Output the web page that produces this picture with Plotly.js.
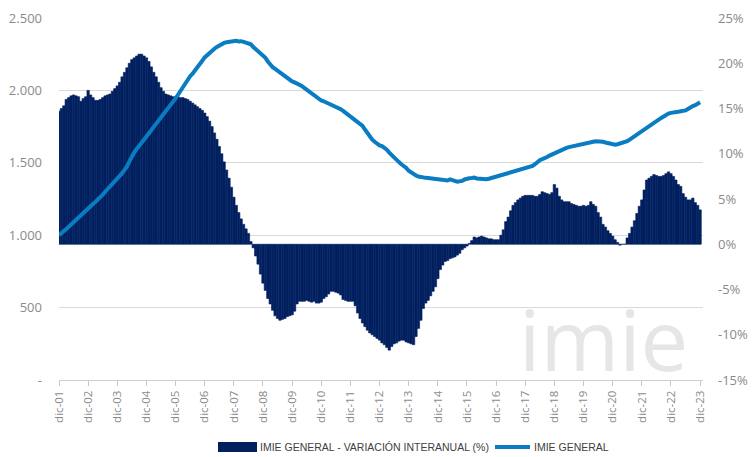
<!DOCTYPE html>
<html>
<head>
<meta charset="utf-8">
<script src="https://cdn.plot.ly/plotly-3.0.1.min.js"></script>
<style>html,body{margin:0;padding:0;background:#fff;}#chart{width:752px;height:457px;}</style>
</head>
<body>
<div id="chart"></div>
<script>
// Year-end tick labels
const tickLabels = ["dic-01","dic-02","dic-03","dic-04","dic-05","dic-06","dic-07","dic-08","dic-09","dic-10","dic-11","dic-12","dic-13","dic-14","dic-15","dic-16","dic-17","dic-18","dic-19","dic-20","dic-21","dic-22","dic-23"];

// IMIE General index, monthly from dic-01 to dic-23
const imieGeneral = [
  1000, 1012, 1027, 1043, 1058, 1074, 1090, 1110, 1125, 1142, 1160, 1172, 1188,
  1200, 1215, 1230, 1245, 1262, 1280, 1300, 1320, 1340, 1360, 1378, 1395,
  1410, 1428, 1448, 1475, 1510, 1545, 1572, 1595, 1615, 1640, 1662, 1685,
  1705, 1725, 1748, 1770, 1790, 1812, 1833, 1855, 1870, 1895, 1918, 1945,
  1970, 1995, 2020, 2050, 2080, 2098, 2115, 2135, 2155, 2180, 2205, 2228,
  2245, 2260, 2275, 2288, 2300, 2310, 2320, 2328, 2332, 2336, 2340, 2340,
  2342, 2338, 2340, 2335, 2330, 2325, 2318, 2300, 2285, 2270, 2258, 2245,
  2225, 2200, 2175, 2160, 2148, 2135, 2122, 2110, 2098, 2085, 2072, 2062,
  2055, 2048, 2040, 2030, 2018, 2005, 1990, 1980, 1968, 1955, 1942, 1930,
  1925, 1918, 1910, 1903, 1897, 1890, 1882, 1870, 1858, 1845, 1832, 1820,
  1810, 1798, 1785, 1775, 1755, 1730, 1705, 1680, 1660, 1645, 1632, 1620,
  1615, 1605, 1590, 1570, 1552, 1535, 1522, 1505, 1490, 1478, 1465, 1445,
  1432, 1420, 1412, 1405, 1400, 1398, 1396, 1395, 1393, 1392, 1390, 1388,
  1385, 1383, 1382, 1378, 1385, 1380, 1375, 1370, 1372, 1375, 1385, 1392,
  1393, 1395, 1398, 1392, 1390, 1388, 1385, 1386, 1390, 1395, 1400, 1405,
  1405, 1410, 1415, 1420, 1425, 1430, 1438, 1445, 1450, 1452, 1460, 1465,
  1470, 1472, 1478, 1490, 1505, 1518, 1525, 1530, 1540, 1550, 1558, 1565,
  1570, 1580, 1590, 1600, 1603, 1608, 1612, 1615, 1618, 1625, 1632, 1635,
  1638, 1640, 1642, 1645, 1648, 1648, 1648, 1645, 1640, 1635, 1630, 1626,
  1625, 1628, 1632, 1636, 1642, 1650, 1660, 1672, 1685, 1695, 1705, 1715,
  1725, 1738, 1750, 1762, 1775, 1788, 1800, 1810, 1820, 1832, 1840, 1845,
  1846, 1850, 1852, 1856, 1858, 1862, 1872, 1885, 1892, 1898, 1908, 1918
];

// Year-on-year change (%), monthly from dic-01 to dic-23
const variacionInteranual = [
  14.7, 15.0, 15.3, 16.0, 16.2, 16.4, 16.5, 16.4, 16.3, 15.8, 16.1, 16.3, 17.0,
  16.5, 16.2, 15.9, 15.9, 16.0, 16.2, 16.4, 16.5, 16.6, 16.9, 17.2, 17.5,
  17.9, 18.5, 19.0, 19.5, 20.0, 20.4, 20.6, 20.8, 21.0, 21.0, 20.8, 20.6,
  20.2, 19.6, 19.0, 18.5, 17.9, 17.3, 16.9, 16.6, 16.5, 16.4, 16.3, 16.3,
  16.3, 16.2, 16.2, 16.1, 16.0, 15.8, 15.6, 15.4, 15.2, 15.0, 14.8, 14.5,
  14.1, 13.6, 13.0, 12.3, 11.6, 10.8, 10.0, 9.1, 8.2, 7.3, 6.3, 5.2,
  4.3, 3.5, 2.8, 2.2, 1.7, 1.2, 0.3, -0.4, -1.3, -2.2, -3.3, -4.3,
  -5.1, -6.0, -6.6, -7.3, -7.9, -8.2, -8.4, -8.3, -8.2, -8.0, -7.9, -7.8,
  -7.4, -6.6, -6.3, -6.3, -6.3, -6.2, -6.3, -6.4, -6.3, -6.5, -6.5, -6.4,
  -6.0, -5.8, -5.5, -5.2, -5.2, -5.3, -5.4, -5.6, -6.1, -6.2, -6.3, -6.3,
  -6.3, -6.8, -7.6, -8.2, -8.7, -9.1, -9.5, -9.8, -10.0, -10.2, -10.4, -10.6,
  -10.9, -11.1, -11.4, -11.7, -11.3, -11.0, -10.9, -10.7, -10.6, -10.6, -10.8, -10.9,
  -11.0, -11.1, -10.2, -9.3, -8.4, -7.1, -6.5, -6.2, -5.7, -5.2, -4.7, -3.8,
  -2.8, -2.3, -1.9, -1.8, -1.6, -1.5, -1.4, -1.2, -1.0, -0.6, -0.4, -0.2,
  0.1, 0.4, 0.8, 0.7, 0.8, 0.9, 0.8, 0.7, 0.6, 0.6, 0.5, 0.5,
  0.5, 1.0, 1.6, 2.5, 3.0, 3.7, 4.3, 4.6, 4.9, 5.1, 5.3, 5.4,
  5.4, 5.4, 5.4, 5.3, 5.3, 5.5, 5.8, 5.7, 5.6, 5.5, 5.7, 6.6,
  6.2, 5.3, 4.9, 4.7, 4.7, 4.7, 4.5, 4.4, 4.3, 4.2, 4.2, 4.3,
  4.2, 4.3, 4.7, 4.4, 4.2, 3.5, 3.0, 2.2, 1.9, 1.5, 1.2, 0.9,
  0.5, 0.2, -0.1, 0.0, 0.0, 0.7, 1.2, 1.9, 2.6, 3.4, 4.2, 4.9,
  6.0, 7.1, 7.3, 7.5, 7.7, 7.6, 7.5, 7.5, 7.6, 7.8, 8.0, 7.8,
  7.5, 7.1, 6.6, 6.4, 5.6, 5.2, 4.9, 4.9, 5.1, 4.6, 4.3, 3.8
];

const leftTickVals = [0, 500, 1000, 1500, 2000, 2500];
const leftTickText = ["-", "500", "1.000", "1.500", "2.000", "2.500"];
const rightTickVals = [-15, -10, -5, 0, 5, 10, 15, 20, 25];
const rightTickText = ["-15%", "-10%", "-5%", "0%", "5%", "10%", "15%", "20%", "25%"];
const seriesNames = ["IMIE GENERAL - VARIACIÓN INTERANUAL (%)", "IMIE GENERAL"];

const monthIdx = imieGeneral.map((_, i) => i);
const tickIdx = tickLabels.map((_, k) => k * 12);

const navy = "#002060";
const blue = "#0a7cc1";
const grey = "#8a8a8a";

const traces = [
  {
    type: "bar", name: seriesNames[0], x: monthIdx, y: variacionInteranual,
    xaxis: "x", yaxis: "y",
    marker: {color: navy, line: {color: navy, width: 0.6}},
    width: 1, hoverinfo: "skip", showlegend: false
  },
  {
    type: "scatter", mode: "lines", name: seriesNames[1], x: monthIdx, y: imieGeneral,
    xaxis: "x", yaxis: "y2",
    line: {color: blue, width: 4}, hoverinfo: "skip", showlegend: false
  }
];

function px2x(px) { return (px - 59) / 644; }
function py2y(py) { return (380 - py) / 362; }

const legendFont = {family: "Liberation Sans, Arial, sans-serif", size: 10.5, color: "#404040", stretch: "condensed"};

const layout = {
  width: 752, height: 457,
  margin: {l: 59, r: 49, t: 18, b: 77},
  paper_bgcolor: "#ffffff", plot_bgcolor: "#ffffff",
  font: {family: "Open Sans, Noto Sans, sans-serif", color: grey},
  bargap: 0,
  showlegend: false,
  xaxis: {
    range: [0, 265.2], tickmode: "array", tickvals: tickIdx, ticktext: tickLabels,
    tickangle: -90, tickfont: {size: 11.5, color: grey},
    ticks: "outside", ticklen: 5, tickcolor: "#c8c8c8", tickwidth: 1,
    showline: true, linecolor: "#d0d0d0", linewidth: 1,
    showgrid: false, zeroline: false, fixedrange: true
  },
  yaxis: {
    side: "right", range: [-15, 25], tickmode: "array",
    tickvals: rightTickVals, ticktext: rightTickText,
    tickfont: {size: 13, color: grey}, showgrid: false, zeroline: false,
    showline: false, ticks: "", ticklabelstandoff: 14, fixedrange: true
  },
  yaxis2: {
    side: "left", overlaying: "y", range: [0, 2500], tickmode: "array",
    tickvals: leftTickVals, ticktext: leftTickText,
    tickfont: {size: 13, color: grey}, showgrid: true, gridcolor: "#d9d9d9", gridwidth: 1,
    zeroline: false, showline: false, ticks: "", ticklabelstandoff: 16, fixedrange: true
  },
  shapes: [
    {type: "rect", xref: "paper", yref: "paper",
     x0: px2x(218), x1: px2x(257), y0: py2y(452), y1: py2y(442),
     fillcolor: navy, line: {width: 0}},
    {type: "line", xref: "paper", yref: "paper",
     x0: px2x(495), x1: px2x(530), y0: py2y(447), y1: py2y(447),
     line: {color: blue, width: 4}}
  ],
  annotations: [
    {text: "imie", xref: "paper", yref: "paper", x: px2x(603), y: py2y(338),
     xanchor: "center", yanchor: "middle", showarrow: false,
     font: {family: "Open Sans, sans-serif", size: 85, color: "#e6e6e6"}},
    {text: seriesNames[0], xref: "paper", yref: "paper", x: px2x(258), y: py2y(447),
     xanchor: "left", yanchor: "middle", showarrow: false, font: legendFont},
    {text: seriesNames[1], xref: "paper", yref: "paper", x: px2x(532), y: py2y(447),
     xanchor: "left", yanchor: "middle", showarrow: false, font: legendFont}
  ]
};

Plotly.newPlot("chart", traces, layout, {displayModeBar: false, staticPlot: true});
</script>
</body>
</html>
